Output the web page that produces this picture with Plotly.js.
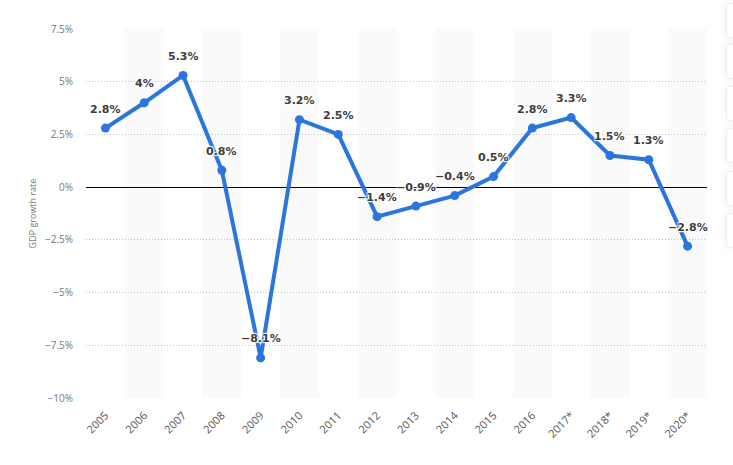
<!DOCTYPE html>
<html><head><meta charset="utf-8">
<script src="https://cdn.plot.ly/plotly-3.0.1.min.js"></script>
<style>
html,body{margin:0;padding:0;background:#fff;overflow:hidden;}
#wrap{position:relative;width:733px;height:465px;}
#chart{width:733px;height:465px;}
.btn{position:absolute;left:726px;width:22px;height:33px;background:#fff;border:1px solid #eeeeee;border-radius:4px;box-shadow:0 0 8px rgba(0,0,0,0.07);}
</style>
</head><body><div id="wrap"><div id="chart"></div>
<div class="btn" style="top:3px"></div>
<div class="btn" style="top:44px"></div>
<div class="btn" style="top:86px"></div>
<div class="btn" style="top:128px"></div>
<div class="btn" style="top:171px"></div>
<div class="btn" style="top:213px"></div>
</div>
<script>
var years = ["2005","2006","2007","2008","2009","2010","2011","2012","2013","2014","2015","2016","2017*","2018*","2019*","2020*"];
var growth = [2.8, 4, 5.3, 0.8, -8.1, 3.2, 2.5, -1.4, -0.9, -0.4, 0.5, 2.8, 3.3, 1.5, 1.3, -2.8];
var yTickVals = [7.5, 5, 2.5, 0, -2.5, -5, -7.5, -10];
var yTickText = ["7.5%", "5%", "2.5%", "0%", "\u22122.5%", "\u22125%", "\u22127.5%", "\u221210%"];

var labels = growth.map(function(v){ return (v < 0 ? "\u2212" : "") + Math.abs(v) + "%"; });

var shapes = [];
for (var i = 1; i < years.length; i += 2) {
  shapes.push({type:'rect', xref:'x', yref:'paper', x0:i-0.5, x1:i+0.5, y0:0, y1:1,
    fillcolor:'#fafafa', line:{width:0}, layer:'below'});
}

var annotations = growth.map(function(v, k){
  return {x: k, y: v, xref:'x', yref:'y', text: labels[k], showarrow:false,
    yshift: 19, font:{family:'"DejaVu Sans", sans-serif', size:11, color:'#3d3d3d', weight:700,
    shadow:'1px 1px 1px #fff, -1px -1px 1px #fff, 1px -1px 1px #fff, -1px 1px 1px #fff'}};
});

var trace = {
  x: years, y: growth, type:'scatter', mode:'lines+markers',
  line:{color:'#2a76dd', width:4},
  marker:{color:'#2a76dd', size:9},
  cliponaxis:false, hoverinfo:'x+y'
};

var layout = {
  width:733, height:465,
  margin:{l:86, r:26, t:29, b:67},
  paper_bgcolor:'#fff', plot_bgcolor:'rgba(0,0,0,0)',
  showlegend:false,
  font:{family:'"Open Sans", sans-serif', color:'#666'},
  xaxis:{type:'category', tickangle:-45, tickfont:{size:11, color:'#555'}, ticklabelstandoff:8,
    showgrid:false, zeroline:false, showline:false, ticks:'', range:[-0.5, 15.5], fixedrange:true},
  yaxis:{range:[-10, 7.5], tickvals:yTickVals, ticktext:yTickText,
    tickfont:{size:10, color:'#777'}, ticks:'', ticklabelstandoff:12,
    showgrid:true, gridcolor:'#c4c4c4', griddash:'1px,2px', gridwidth:1,
    zeroline:true, zerolinecolor:'#000', zerolinewidth:1,
    title:{text:'GDP growth rate', font:{size:9, color:'#777'}, standoff:6}, fixedrange:true},
  shapes: shapes,
  annotations: annotations
};

Plotly.newPlot('chart', [trace], layout, {displayModeBar:false, staticPlot:true});
</script></body></html>
